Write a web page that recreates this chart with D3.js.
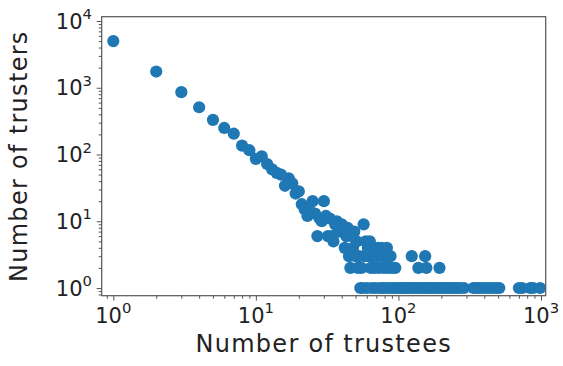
<!DOCTYPE html>
<html><head><meta charset="utf-8">
<script src="https://cdn.jsdelivr.net/npm/d3@7"></script>
<style>html,body{margin:0;padding:0;background:#fff;} svg{display:block;font-family:"DejaVu Sans",sans-serif;}</style>
</head><body><svg id="chart" width="563" height="366"></svg>
<script>
// Number of trustees (x) and number of trusters with that many trustees (y)
const trustees = [
  1,2,3,4,5,6,7,8,9,10,11,12,13,14,15,16,17,18,
  19,20,21,22,23,24,25,26,27,28,29,30,31,32,33,34,35,36,37,
  38,39,40,41,42,43,44,45,46,47,48,49,50,51,52,53,54,55,56,57,58,59,60,
  61,62,63,64,65,66,67,68,69,71,72,73,74,76,77,78,79,81,82,83,84,86,88,90,91,95,96,
  100,104,108,112,117,122,124,127,133,138,139,145,152,154,157,158,165,172,180,188,194,196,
  205,214,224,235,246,258,270,288,336,352,370,390,412,436,460,486,510,
  700,738,840,880,985
];
const trusters = [
  5000,1750,860,510,330,250,205,136,116,86,94,72,60,53,50,34,44,37,
  26,28,18,15,12,14,20,13,6,11,10,20,12,6,11,6,5,9,10,
  7,8,9,8,4,6,8,3,2,6,4,7,3,5,2,3,1,2,1,9,3,5,1,
  4,3,5,2,1,3,4,2,1,3,4,2,1,4,3,1,2,1,3,4,2,1,3,2,1,2,1,
  1,1,1,1,1,1,3,1,1,2,1,1,1,3,2,1,1,1,1,1,2,1,
  1,1,1,1,1,1,1,1,1,1,1,1,1,1,1,1,1,
  1,1,1,1,1
];
const xMajor = [1, 10, 100, 1000];
const xExponents = ["0", "1", "2", "3"];
const yMajor = [1, 10, 100, 1000, 10000];
const yExponents = ["0", "1", "2", "3", "4"];
const xTitle = "Number of trustees";
const yTitle = "Number of trusters";

const W = 563, H = 366;
const plot = {l: 101.7, r: 545.7, t: 16.7, b: 295.7};
const x = d3.scaleLog().domain([0.829, 1079]).range([plot.l, plot.r]);
const y = d3.scaleLog().domain([0.767, 11600]).range([plot.b, plot.t]);

const svg = d3.select("#chart");
svg.append("rect").attr("width", W).attr("height", H).attr("fill", "#fff");
svg.append("defs").append("clipPath").attr("id", "clip")
  .append("rect").attr("x", plot.l).attr("y", plot.t)
  .attr("width", plot.r - plot.l).attr("height", plot.b - plot.t);

function minors(scale) {
  const [a, b] = scale.domain();
  const out = [];
  for (let e = Math.floor(Math.log10(a)); e <= Math.ceil(Math.log10(b)); e++) {
    for (let m = 2; m <= 9; m++) {
      const v = m * Math.pow(10, e);
      if (v >= a && v <= b) out.push(v);
    }
  }
  return out;
}

const axisColor = "#555";
const textColor = "#222";

// x axis ticks
const gx = svg.append("g").attr("transform", `translate(0,${plot.b})`);
gx.append("g").call(d3.axisBottom(x).tickValues(minors(x)).tickSize(3).tickFormat(""));
gx.append("g").call(d3.axisBottom(x).tickValues(xMajor).tickSize(5).tickFormat(""));
// y axis ticks
const gy = svg.append("g").attr("transform", `translate(${plot.l},0)`);
gy.append("g").call(d3.axisLeft(y).tickValues(minors(y)).tickSize(3).tickFormat(""));
gy.append("g").call(d3.axisLeft(y).tickValues(yMajor).tickSize(5).tickFormat(""));
svg.selectAll(".domain").remove();
svg.selectAll(".tick line").attr("stroke", axisColor).attr("stroke-width", 1);

// points
svg.append("g").attr("clip-path", "url(#clip)")
  .selectAll("circle").data(trustees.map((d, i) => [d, trusters[i]]))
  .join("circle")
  .attr("cx", d => x(d[0])).attr("cy", d => y(d[1]))
  .attr("r", 6.1).attr("fill", "#1f77b4");

// spines
svg.append("rect").attr("x", plot.l).attr("y", plot.t)
  .attr("width", plot.r - plot.l).attr("height", plot.b - plot.t)
  .attr("fill", "none").attr("stroke", axisColor).attr("stroke-width", 1.2);

// tick labels
xMajor.forEach((v, i) => {
  const t = svg.append("text").attr("x", x(v)).attr("y", 322.6)
    .attr("text-anchor", "middle").attr("font-size", 21).attr("fill", textColor);
  t.append("tspan").text("10");
  t.append("tspan").attr("dy", -9.6).attr("font-size", 14.8).text(xExponents[i]);
});
yMajor.forEach((v, i) => {
  const t = svg.append("text").attr("x", 92).attr("y", y(v) + 7.7)
    .attr("text-anchor", "end").attr("font-size", 21).attr("fill", textColor);
  t.append("tspan").text("10");
  t.append("tspan").attr("dy", -9.6).attr("font-size", 14.8).text(yExponents[i]);
});

// axis titles
svg.append("text").attr("x", (plot.l + plot.r) / 2).attr("y", 352)
  .attr("text-anchor", "middle").attr("font-size", 24).attr("letter-spacing", 1.3)
  .attr("fill", textColor).text(xTitle);
svg.append("text").attr("transform", `translate(27.3,${(plot.t + plot.b) / 2}) rotate(-90)`)
  .attr("text-anchor", "middle").attr("font-size", 24).attr("letter-spacing", 1.3)
  .attr("fill", textColor).text(yTitle);
</script>
</body></html>
